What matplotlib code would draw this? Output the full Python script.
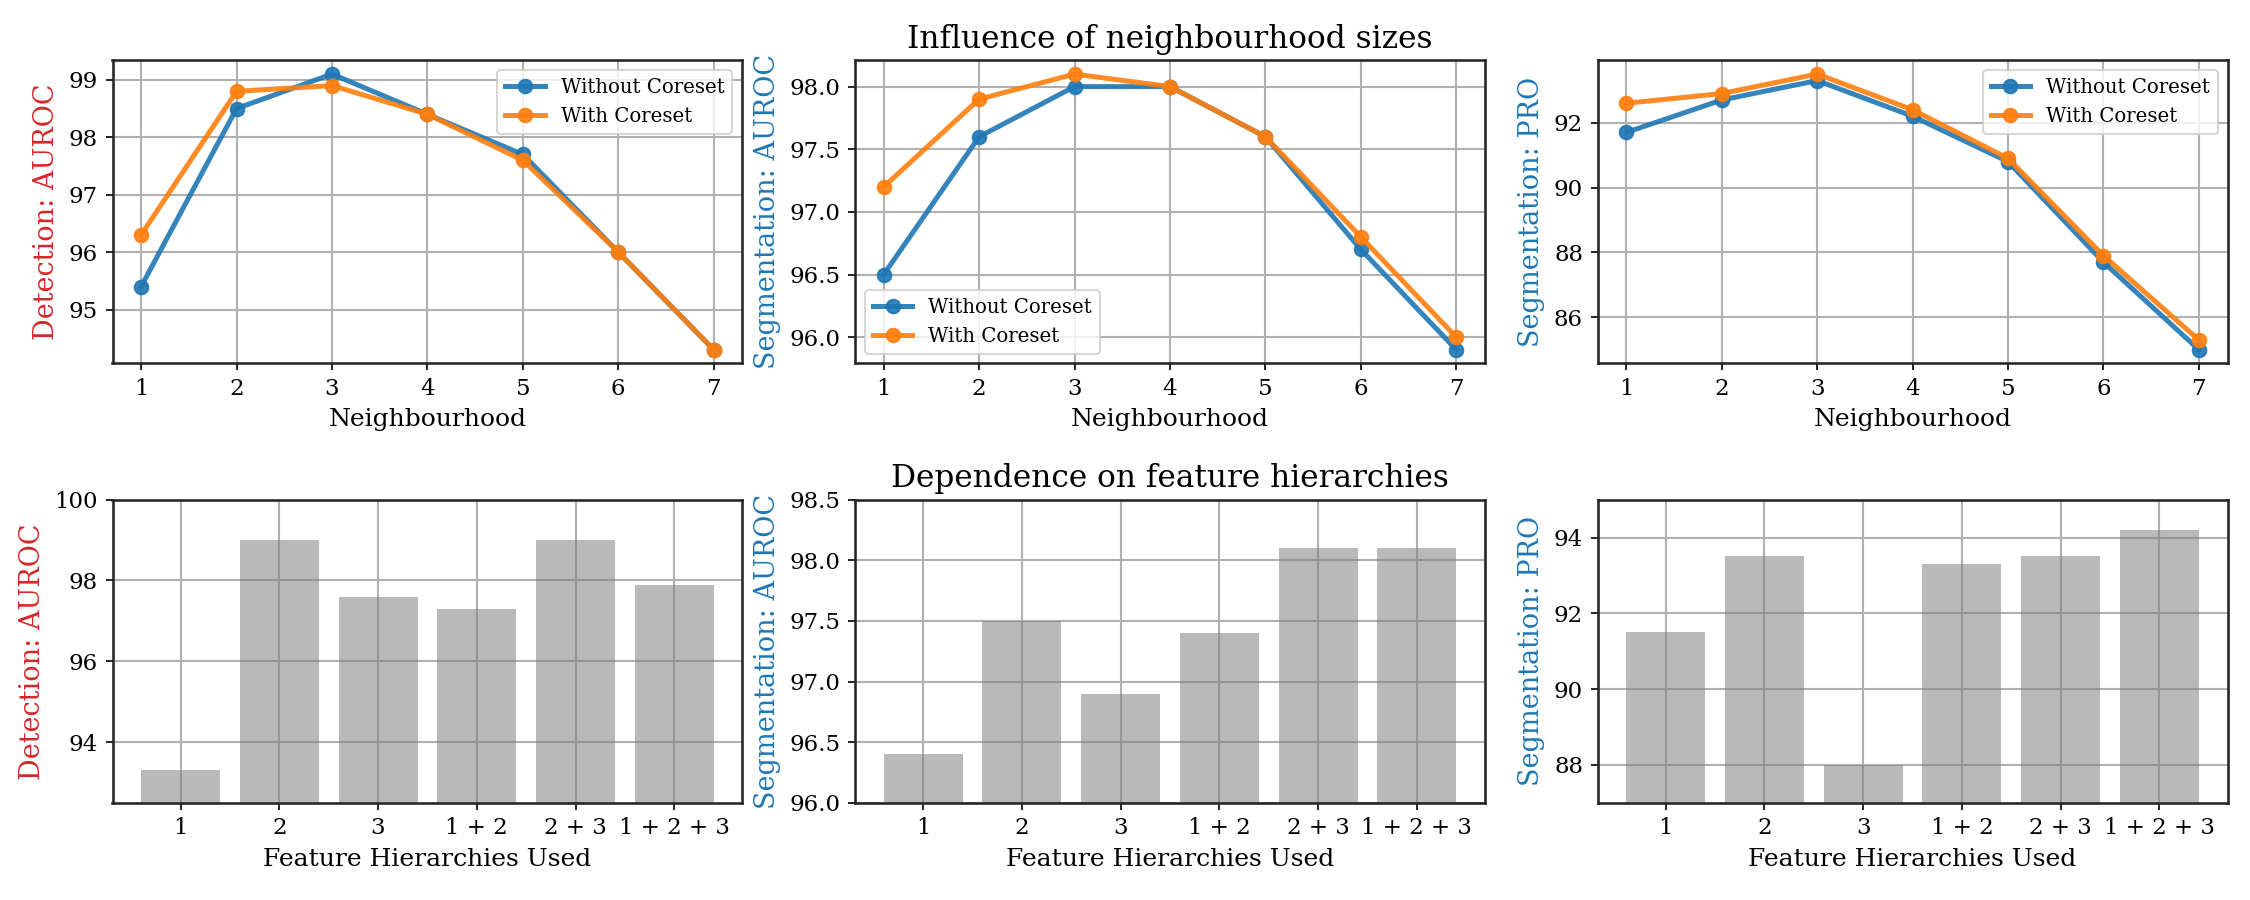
import numpy as np
import matplotlib
matplotlib.use("Agg")
import matplotlib.pyplot as plt

plt.rcParams['font.family'] = ['DejaVu Serif']
plt.rcParams['mathtext.fontset'] = 'dejavuserif'

# neighbourhood sweep
neighbourhood = [1, 2, 3, 4, 5, 6, 7]
det_without = [95.4, 98.5, 99.1, 98.4, 97.7, 96.0, 94.3]
det_with = [96.3, 98.8, 98.9, 98.4, 97.6, 96.0, 94.3]
seg_without = [96.5, 97.6, 98.0, 98.0, 97.6, 96.7, 95.9]
seg_with = [97.2, 97.9, 98.1, 98.0, 97.6, 96.8, 96.0]
pro_without = [91.7, 92.7, 93.3, 92.2, 90.8, 87.7, 85.0]
pro_with = [92.6, 92.9, 93.5, 92.4, 90.9, 87.9, 85.3]

# feature hierarchies
hierarchies = ["1", "2", "3", "1 + 2", "2 + 3", "1 + 2 + 3"]
det_hier = [93.3, 99.0, 97.6, 97.3, 99.0, 97.9]
seg_hier = [96.4, 97.5, 96.9, 97.4, 98.1, 98.1]
pro_hier = [91.5, 93.5, 88.0, 93.3, 93.5, 94.2]

det_color = "tab:red"
seg_color = "tab:blue"

fig, axes = plt.subplots(2, 3, figsize=(15, 6), dpi=150)
fig.subplots_adjust(left=0.05, right=0.99, top=0.933, bottom=0.108,
                    wspace=0.179, hspace=0.449)

line_rows = [
    ("Detection: AUROC", det_color, det_without, det_with, "upper right"),
    ("Segmentation: AUROC", seg_color, seg_without, seg_with, "lower left"),
    ("Segmentation: PRO", seg_color, pro_without, pro_with, "upper right"),
]
for ax, (lbl, col, yw, yc, loc) in zip(axes[0], line_rows):
    ax.plot(neighbourhood, yw, marker="o", lw=2.4, ms=6.5, alpha=0.9,
            color="tab:blue", label="Without Coreset")
    ax.plot(neighbourhood, yc, marker="o", lw=2.4, ms=6.5, alpha=0.9,
            color="tab:orange", label="With Coreset")
    ax.set_xticks(neighbourhood)
    ax.set_xlabel("Neighbourhood", fontsize=12)
    ax.set_ylabel(lbl, color=col, fontsize=13)
    ax.legend(loc=loc, fontsize=9.5)
    ax.grid(True, color="#b0b0b0", lw=1.0)
    ax.set_axisbelow(True)
axes[0][1].set_yticks([96.0, 96.5, 97.0, 97.5, 98.0])
axes[0][1].set_yticklabels(["96.0", "96.5", "97.0", "97.5", "98.0"])
axes[0][1].set_title("Influence of neighbourhood sizes", fontsize=15)

bar_rows = [
    ("Detection: AUROC", det_color, det_hier, (92.5, 100), [94, 96, 98, 100]),
    ("Segmentation: AUROC", seg_color, seg_hier, (96.0, 98.5),
     [96.0, 96.5, 97.0, 97.5, 98.0, 98.5]),
    ("Segmentation: PRO", seg_color, pro_hier, (87, 95), [88, 90, 92, 94]),
]
x = np.arange(len(hierarchies))
for ax, (lbl, col, vals, lim, ticks) in zip(axes[1], bar_rows):
    ax.bar(x, vals, width=0.8, color="gray", alpha=0.55)
    ax.set_ylim(*lim)
    ax.set_yticks(ticks)
    if isinstance(ticks[0], float):
        ax.set_yticklabels(["%.1f" % t for t in ticks])
    ax.set_xticks(x)
    ax.set_xticklabels(hierarchies)
    ax.set_xlabel("Feature Hierarchies Used", fontsize=12)
    ax.set_ylabel(lbl, color=col, fontsize=13)
    ax.grid(True, color="#b0b0b0", lw=1.0)
    ax.set_axisbelow(True)
axes[1][1].set_title("Dependence on feature hierarchies", fontsize=15)

for ax in axes.flat:
    ax.tick_params(labelsize=11)
    for s in ax.spines.values():
        s.set_color("#262626")
        s.set_linewidth(1.25)

fig.savefig("out.png", dpi=150)
